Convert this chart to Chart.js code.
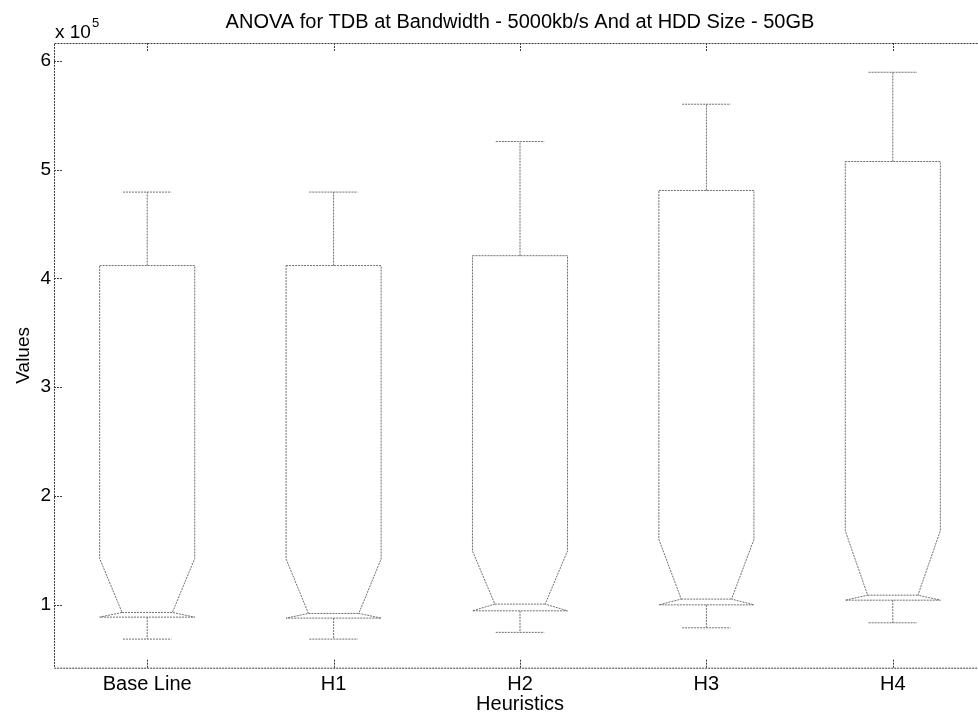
<!DOCTYPE html>
<html><head><meta charset="utf-8">
<script src="https://cdn.jsdelivr.net/npm/chart.js@4.4.1/dist/chart.umd.min.js"></script>
<style>
html,body{margin:0;padding:0;background:#fff;overflow:hidden;width:978px;height:714px}
#wrap{position:relative;width:1000px;height:714px}
</style></head>
<body><div id="wrap"><canvas id="c" width="1000" height="714"></canvas></div>
<script>
// Data (values in units of 10^5)
const categories   = ['Base Line', 'H1', 'H2', 'H3', 'H4'];
const upperWhisker = [4.794, 4.794, 5.259, 5.602, 5.896];
const q3           = [4.118, 4.118, 4.209, 4.809, 5.075];
const notchHi      = [1.424, 1.420, 1.494, 1.600, 1.680];
const medians      = [0.928, 0.919, 1.005, 1.051, 1.087];
const q1           = [0.885, 0.876, 0.943, 0.998, 1.041];
const lowerWhisker = [0.683, 0.683, 0.745, 0.787, 0.833];
const yTickValues  = [1, 2, 3, 4, 5, 6];
const exponentLabel = '5';

const FONT = "'Liberation Sans', Arial, Helvetica, sans-serif";
const BOX_HALF = 0.255, NOTCH_HALF = 0.135, CAP_HALF = 0.13, TICK_LEN = 9;

const boxPlugin = {
  id: 'notchedBoxes',
  afterDatasetsDraw(chart) {
    const {ctx, chartArea: a, scales: {x, y}} = chart;
    ctx.save();
    // boxes
    ctx.strokeStyle = '#6e6e6e';
    ctx.lineWidth = 1;
    ctx.setLineDash([2, 1]);
    categories.forEach((c, i) => {
      const v = i + 1;
      const xc = x.getPixelForValue(v);
      const xl = x.getPixelForValue(v - BOX_HALF), xr = x.getPixelForValue(v + BOX_HALF);
      const nl = x.getPixelForValue(v - NOTCH_HALF), nr = x.getPixelForValue(v + NOTCH_HALF);
      const cl = x.getPixelForValue(v - CAP_HALF), cr = x.getPixelForValue(v + CAP_HALF);
      const yQ3 = y.getPixelForValue(q3[i]), yNH = y.getPixelForValue(notchHi[i]);
      const yMed = y.getPixelForValue(medians[i]), yQ1 = y.getPixelForValue(q1[i]);
      const yUW = y.getPixelForValue(upperWhisker[i]), yLW = y.getPixelForValue(lowerWhisker[i]);
      ctx.beginPath();
      ctx.moveTo(xl, yQ3); ctx.lineTo(xr, yQ3); ctx.lineTo(xr, yNH); ctx.lineTo(nr, yMed);
      ctx.lineTo(xr, yQ1); ctx.lineTo(xl, yQ1); ctx.lineTo(nl, yMed); ctx.lineTo(xl, yNH);
      ctx.closePath();
      ctx.stroke();
      // median
      ctx.beginPath(); ctx.moveTo(nl, yMed); ctx.lineTo(nr, yMed); ctx.stroke();
      // whiskers
      ctx.beginPath();
      ctx.moveTo(xc, yQ3); ctx.lineTo(xc, yUW);
      ctx.moveTo(cl, yUW); ctx.lineTo(cr, yUW);
      ctx.moveTo(xc, yQ1); ctx.lineTo(xc, yLW);
      ctx.moveTo(cl, yLW); ctx.lineTo(cr, yLW);
      ctx.stroke();
    });
    // axes border and ticks
    ctx.strokeStyle = '#3a3a3a';
    ctx.setLineDash([2, 1]);
    ctx.beginPath();
    ctx.rect(Math.round(a.left) + 0.5, Math.round(a.top) + 0.5, a.right - a.left, a.bottom - a.top);
    ctx.stroke();
    ctx.beginPath();
    y.ticks.forEach(t => {
      const py = Math.round(y.getPixelForValue(t.value)) + 0.5;
      ctx.moveTo(a.left, py); ctx.lineTo(a.left + TICK_LEN, py);
      ctx.moveTo(a.right, py); ctx.lineTo(a.right - TICK_LEN, py);
    });
    x.ticks.forEach(t => {
      const px = Math.round(x.getPixelForValue(t.value)) + 0.5;
      ctx.moveTo(px, a.bottom); ctx.lineTo(px, a.bottom - TICK_LEN);
      ctx.moveTo(px, a.top); ctx.lineTo(px, a.top + TICK_LEN);
    });
    ctx.stroke();
    ctx.setLineDash([]);
    // exponent label
    ctx.fillStyle = '#000';
    ctx.textBaseline = 'alphabetic';
    ctx.textAlign = 'left';
    ctx.font = `19px ${FONT}`;
    const base = 'x 10';
    ctx.fillText(base, a.left + 1, a.top - 5);
    const w = ctx.measureText(base).width;
    ctx.font = `13px ${FONT}`;
    ctx.fillText(exponentLabel, a.left + 2 + w, a.top - 16);
    ctx.restore();
  }
};

new Chart(document.getElementById('c'), {
  type: 'scatter',
  data: {
    datasets: [{
      data: categories.map((c, i) => ({x: i + 1, y: medians[i]})),
      pointRadius: 0, showLine: false
    }]
  },
  options: {
    responsive: false,
    animation: false,
    layout: {padding: {left: 0, right: 14, top: 0, bottom: 0}},
    plugins: {
      legend: {display: false},
      tooltip: {enabled: false},
      title: {
        display: true, fullSize: false,
        text: 'ANOVA for TDB at Bandwidth - 5000kb/s And at HDD Size - 50GB',
        color: '#000', font: {family: FONT, size: 20, weight: 'normal', lineHeight: 1.2},
        padding: {top: 10, bottom: 9}
      }
    },
    scales: {
      x: {
        type: 'linear', min: 0.5, max: 5.5,
        afterBuildTicks: s => { s.ticks = categories.map((c, i) => ({value: i + 1})); },
        afterFit: s => { s.height = 46.3; },
        grid: {display: false, drawTicks: false},
        border: {display: false},
        ticks: {
          callback: v => categories[v - 1] || '',
          color: '#000', font: {family: FONT, size: 20}, padding: 5, maxRotation: 0, autoSkip: false
        },
        title: {display: true, text: 'Heuristics', color: '#000',
          font: {family: FONT, size: 20, lineHeight: 1}, padding: {top: 0, bottom: 0}}
      },
      y: {
        type: 'linear', min: 0.42, max: 6.165,
        afterBuildTicks: s => { s.ticks = yTickValues.map(v => ({value: v})); },
        afterFit: s => { s.width = 54; },
        grid: {display: false, drawTicks: false},
        border: {display: false},
        ticks: {callback: v => String(v), color: '#000', font: {family: FONT, size: 19}, padding: 3},
        title: {display: true, text: 'Values', color: '#000',
          font: {family: FONT, size: 19, lineHeight: 1}, padding: {top: 14, bottom: 0}}
      }
    }
  },
  plugins: [boxPlugin]
});
</script>
</body></html>
